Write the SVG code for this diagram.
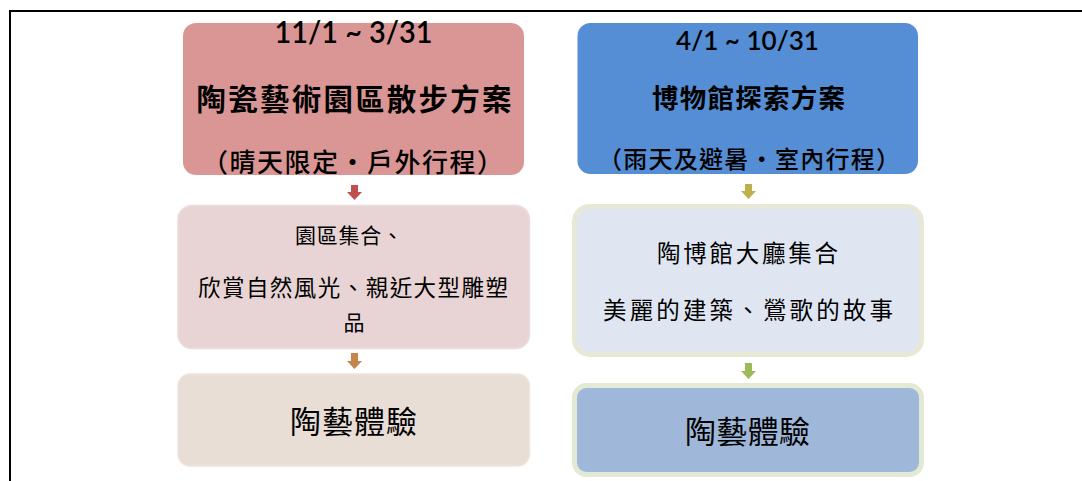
<svg xmlns="http://www.w3.org/2000/svg" width="1082" height="481" viewBox="0 0 1082 481">
<style>
.t{font-family:"Noto Sans CJK TC","Noto Sans CJK SC",sans-serif;fill:#000;text-anchor:middle}
.d{font-family:Lato,"Open Sans","Liberation Sans",sans-serif;fill:#000;text-anchor:middle;font-weight:600}
.b{font-weight:bold}
.m{font-weight:500}
</style>
<rect x="0" y="0" width="1082" height="481" fill="#fff"/>
<g id="frame">
<path d="M10 481 V11 H1082" fill="none" stroke="#000" stroke-width="2"/>
</g>
<g id="connectors">
<path d="M351 185 H358 V192 H362 L354.5 200 L347 192 H351 Z" fill="#C0504D"/>
<path d="M351 353 H358 V361 H362 L354.5 369 L347 361 H351 Z" fill="#C4844A"/>
<path d="M745 184 H752 V191 H756 L748.5 199 L741 191 H745 Z" fill="#BFB04D"/>
<path d="M745 363 H752 V371 H756 L748.5 379 L741 371 H745 Z" fill="#9BBB59"/>
</g>
<g id="left-plan">
<rect x="183" y="23" width="341" height="152" rx="13" fill="#DA9694"/>
<text class="d" x="353.5" y="43" font-size="30" textLength="158" lengthAdjust="spacingAndGlyphs">11/1 ~ 3/31</text>
<text class="t b" x="354" y="110" font-size="29.5" textLength="315" lengthAdjust="spacing">陶瓷藝術園區散步方案</text>
<text class="t m" x="352.5" y="172" font-size="26" textLength="301" lengthAdjust="spacing">（晴天限定・戶外行程）</text>
</g>
<g id="left-step1">
<rect x="178" y="205.5" width="351.5" height="143" rx="14" fill="#E8D4D4" stroke="#EBDCDC" stroke-width="1.5"/>
<text class="t" x="349" y="243" font-size="21" textLength="108" lengthAdjust="spacing">園區集合、</text>
<text class="t" x="353" y="296" font-size="22.5" textLength="310" lengthAdjust="spacing">欣賞自然風光、親近大型雕塑</text>
<text class="t" x="354" y="330" font-size="21">品</text>
</g>
<g id="left-step2">
<rect x="178" y="374" width="351.5" height="92" rx="12" fill="#E8DED5" stroke="#EDE5DE" stroke-width="1.5"/>
<text class="t" x="353.5" y="433" font-size="31" textLength="127" lengthAdjust="spacing">陶藝體驗</text>
</g>
<g id="right-plan">
<rect x="577.5" y="23" width="340.5" height="151" rx="13" fill="#558ED5"/>
<text class="d" x="747.5" y="50" font-size="26" textLength="143" lengthAdjust="spacingAndGlyphs">4/1 ~ 10/31</text>
<text class="t b" x="748.5" y="108" font-size="26.5" textLength="193" lengthAdjust="spacing">博物館探索方案</text>
<text class="t m" x="749" y="168" font-size="24" textLength="302" lengthAdjust="spacing">（雨天及避暑・室內行程）</text>
</g>
<g id="right-step1">
<rect x="574.5" y="206.5" width="347" height="148" rx="15" fill="#DFE6F1" stroke="#E8E8D6" stroke-width="5"/>
<text class="t" x="747.5" y="262" font-size="23.5" textLength="181" lengthAdjust="spacing">陶博館大廳集合</text>
<text class="t" x="748" y="319" font-size="23.5" textLength="290" lengthAdjust="spacing">美麗的建築、鶯歌的故事</text>
</g>
<g id="right-step2">
<rect x="574.5" y="385.5" width="347" height="89" rx="12" fill="#9FB8DA" stroke="#E2E9D5" stroke-width="5"/>
<text class="t" x="747.5" y="443" font-size="31" textLength="125" lengthAdjust="spacing">陶藝體驗</text>
</g>
</svg>
